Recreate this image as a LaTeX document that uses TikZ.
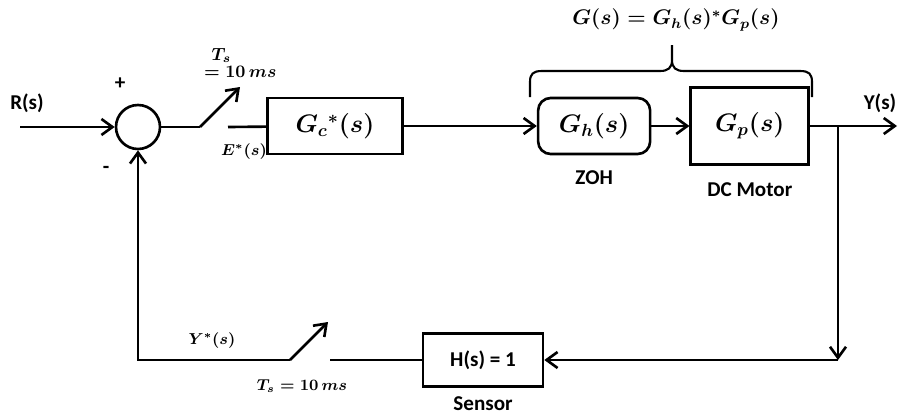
\documentclass[tikz,border=0pt]{standalone}
\usepackage{fontspec}
\setsansfont{Carlito}
\usetikzlibrary{arrows.meta,positioning}

\begin{document}
\begin{tikzpicture}[
  x=0.2mm,y=-0.2mm,
  line width=1.5pt,
  block/.style={
    draw,fill=white,minimum height=11.2mm,minimum width=27mm,
    inner sep=1mm,font=\Large\boldmath
  },
  sumnode/.style={draw,circle,minimum size=8.8mm,inner sep=0pt},
  lbl/.style={font=\sffamily\bfseries\large,inner sep=1pt},
  mathlbl/.style={font=\small\boldmath,inner sep=1pt},
  arr/.style={-{Straight Barb[length=2.2mm,width=3.2mm]}}
]
  \useasboundingbox (0,0) rectangle (899,419);

  \node[sumnode] (sum) at (138,127) {};
  \node[block] (gc) at (335,126) {$G_c{}^*(s)$};
  \node[block,rounded corners=2.5mm,minimum width=22.4mm,right=26.6mm of gc] (zoh) {$G_h(s)$};
  \node[block,minimum width=23.6mm,minimum height=15.4mm,right=7.6mm of zoh] (gp) {$G_p(s)$};
  \node[block,minimum width=24mm,minimum height=10.6mm,font=\sffamily\bfseries\large] (hs) at (483,360) {H(s) = 1};

  \node[lbl,below=2.5mm of zoh] (zohlbl) {ZOH};
  \node[lbl,below=2.8mm of gp] (gplbl) {DC Motor};
  \node[lbl,below=1.2mm of hs] (hslbl) {Sensor};
  \node[lbl] (rlbl) at (27,103) {R(s)};
  \node[lbl] (ylbl) at (880,103) {Y(s)};
  \node[lbl] (plus) at (120,84) {+};
  \node[lbl] (minus) at (106,170) {-};
  \node[font=\large\boldmath] (glbl) at (676,20) {$G(s) = G_h(s)^*G_p(s)$};
  \node[mathlbl,font=\normalsize\boldmath,align=left,anchor=north west] (ts1) at (201,45) {\hspace*{1.5mm}$T_s$\\[-2pt]$= 10\,ms$};
  \node[mathlbl] (elbl) at (244,152) {$E^*(s)$};
  \node[mathlbl] (ystar) at (212,341) {$Y^*(s)$};
  \node[mathlbl] (ts2) at (302,386) {$T_s = 10\,ms$};

  \coordinate (rin) at (20,127);
  \coordinate (s1a) at (200,127);
  \coordinate (s1b) at (240,87);
  \coordinate (s1c) at (228,127);
  \coordinate (br) at (838,126);
  \coordinate (yout) at (897,126);
  \coordinate (fb) at (838,360);
  \coordinate (s2a) at (290,360);
  \coordinate (s2b) at (328,322);
  \coordinate (s2c) at (330,360);

  \draw[arr] (rin) -- (sum);
  \draw (sum) -- (s1a);
  \draw[arr] (s1a) -- (s1b);
  \draw (s1c) -- (gc);
  \draw[arr] (gc) -- (zoh);
  \draw[arr] (zoh) -- (gp);
  \draw[arr] (gp) -- (yout);
  \draw[arr] (br) -- (fb);
  \draw[arr] (fb) -- (hs);
  \draw (hs) -- (s2c);
  \draw[arr] (s2a) -- (s2b);
  \draw[arr] (s2a) -- (sum |- s2a) -- (sum);

  \draw[line width=1.2pt] (530,97) -- (530,82) .. controls (530,74) and (533,71) .. (542,71)
    -- (660,71) .. controls (668,71) and (672,68) .. (672,60) -- (672,45)
    -- (672,60) .. controls (672,68) and (676,71) .. (684,71)
    -- (800,71) .. controls (809,71) and (812,74) .. (812,82) -- (812,97);
\end{tikzpicture}
\end{document}
